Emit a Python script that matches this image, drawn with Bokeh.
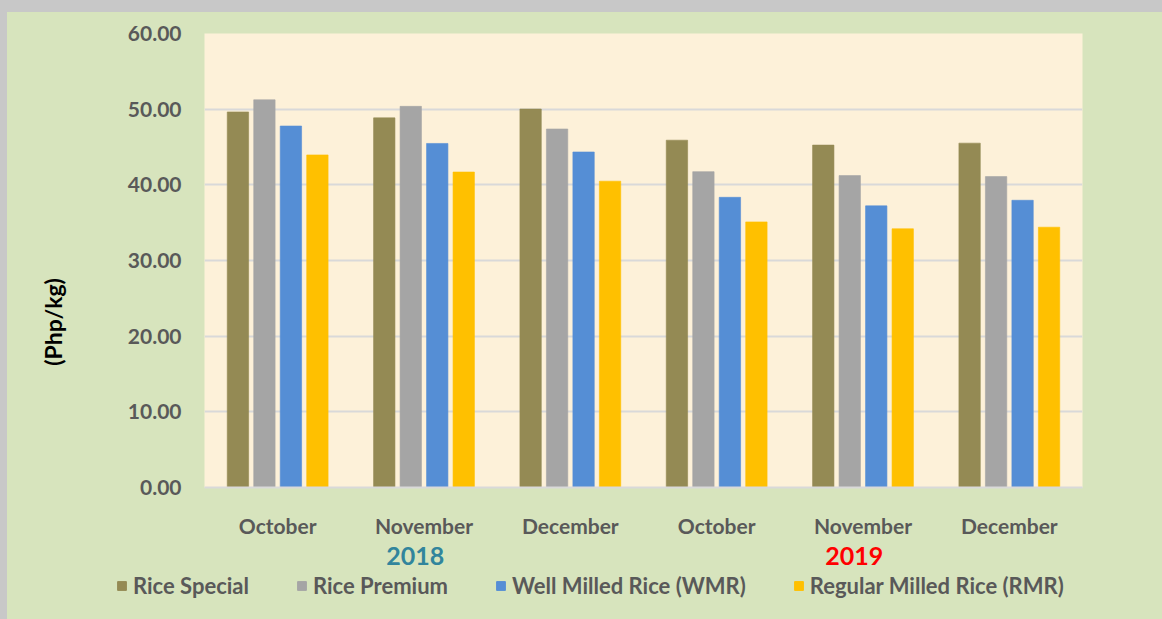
from bokeh.plotting import figure
from bokeh.layouts import column
from bokeh.models import (ColumnDataSource, Range1d, FixedTicker,
                          NumeralTickFormatter, Legend, LegendItem)
from bokeh.core.properties import value
from bokeh.transform import dodge
from bokeh.embed import file_html
from bokeh.resources import INLINE

# ---------------- data ----------------
months = ["October", "November", "December", "October", "November", "December"]
years = ["2018", "2018", "2018", "2019", "2019", "2019"]
rice_special = [49.63, 48.85, 50.02, 45.90, 45.25, 45.51]
rice_premium = [51.24, 50.37, 47.38, 41.74, 41.22, 41.09]
well_milled = [47.77, 45.47, 44.34, 38.35, 37.22, 37.96]
regular_milled = [43.95, 41.69, 40.48, 35.10, 34.19, 34.40]
series_names = ["Rice Special", "Rice Premium", "Well Milled Rice (WMR)",
                "Regular Milled Rice (RMR)"]
series_keys = ["special", "premium", "wmr", "rmr"]
series_colors = ["#948A54", "#A5A5A5", "#558ED5", "#FFC000"]
year_labels = ["2018", "2019"]
year_colors = ["#31859C", "#FF0000"]
y_ticks = [0, 10, 20, 30, 40, 50, 60]
y_label = "(Php/kg)"

# ---------------- layout constants ----------------
W, H = 1155, 607
MAIN_H = 528
BORDER_L, BORDER_R, BORDER_T, BORDER_B = 197, 80, 21, 46
FONT = "Lato"
TXT = "#595959"
GREEN = "#D7E4BD"

n = len(months)
centers = [i + 0.5 for i in range(n)]
source = ColumnDataSource(dict(xc=centers, special=rice_special,
                               premium=rice_premium, wmr=well_milled,
                               rmr=regular_milled))

p = figure(width=W, height=MAIN_H, output_backend="svg", toolbar_location=None,
           x_range=Range1d(0, n), y_range=Range1d(0, 60),
           min_border_left=BORDER_L, min_border_right=BORDER_R,
           min_border_top=BORDER_T, min_border_bottom=BORDER_B)
p.frame_align = False
p.background_fill_color = "#FDF1D9"
p.border_fill_color = GREEN
p.outline_line_color = None

pitch = 0.181
bw = 0.146
for j, (key, col) in enumerate(zip(series_keys, series_colors)):
    p.vbar(x=dodge("xc", (j - 1.5) * pitch), top=key, width=bw, source=source,
           fill_color=col, line_color=col, line_alpha=0.6)

# axes
p.yaxis.ticker = FixedTicker(ticks=y_ticks)
p.yaxis.formatter = NumeralTickFormatter(format="0.00")
p.yaxis.axis_line_color = None
p.yaxis.major_tick_line_color = None
p.yaxis.minor_tick_line_color = None
p.yaxis.major_label_standoff = 17
p.yaxis.major_label_text_font = FONT
p.yaxis.major_label_text_font_size = "21px"
p.yaxis.major_label_text_font_style = "bold"
p.yaxis.major_label_text_color = TXT
# trailing no-break spaces shift the rotated label below the frame centre
p.yaxis.axis_label = y_label + "\u00a0" * 22
p.yaxis.axis_label_text_font = FONT
p.yaxis.axis_label_text_font_size = "23px"
p.yaxis.axis_label_text_font_style = "bold"
p.yaxis.axis_label_text_color = "#000000"
p.yaxis.axis_label_standoff = 58

p.xaxis.ticker = FixedTicker(ticks=centers)
p.xaxis.major_label_overrides = {c: m for c, m in zip(centers, months)}
p.xaxis.axis_line_color = "#D9D9D9"
p.xaxis.axis_line_width = 2
p.xaxis.major_tick_line_color = None
p.xaxis.minor_tick_line_color = None
p.xaxis.major_label_standoff = 19
p.xaxis.major_label_text_font = FONT
p.xaxis.major_label_text_font_size = "21px"
p.xaxis.major_label_text_font_style = "bold"
p.xaxis.major_label_text_color = TXT

p.xgrid.grid_line_color = None
p.ygrid.grid_line_color = "#D9D9D9"
p.ygrid.grid_line_width = 2

# ---------------- bottom strip: years + legend ----------------
BOT_H = H - MAIN_H
px_per_unit = (W - BORDER_L - BORDER_R) / n
p2 = figure(width=W, height=BOT_H, output_backend="svg", toolbar_location=None,
            x_range=Range1d(-BORDER_L / px_per_unit, n + BORDER_R / px_per_unit),
            y_range=Range1d(0, BOT_H), x_axis_location=None,
            y_axis_location=None, min_border=0, min_border_left=0,
            min_border_right=0, min_border_top=0, min_border_bottom=0)
p2.frame_align = False
p2.background_fill_color = GREEN
p2.border_fill_color = GREEN
p2.outline_line_color = None
p2.grid.visible = False

ysrc = ColumnDataSource(dict(
    x=[sum(c for c, y in zip(centers, years) if y == yl) /
       sum(1 for y in years if y == yl) - 0.06 for yl in year_labels],
    y=[BOT_H - 15] * len(year_labels),
    text=year_labels, color=year_colors))
p2.text(x="x", y="y", text="text", text_color="color", source=ysrc,
        text_align="center", text_baseline="middle", text_font=value(FONT),
        text_font_size="25px", text_font_style="bold")

items = []
for key, name, col in zip(series_keys, series_names, series_colors):
    r = p2.vbar(x="xc", top=key, width=bw, source=source, fill_color=col,
                line_color=col, visible=False)
    items.append(LegendItem(label=name, renderers=[r]))
legend = Legend(items=items, orientation="horizontal", location=(109, 20),
                spacing=47, label_standoff=6, glyph_width=11, glyph_height=11,
                padding=0, margin=0, border_line_color=None,
                background_fill_alpha=0, label_text_font=FONT,
                label_text_font_size="22px", label_text_font_style="bold",
                label_text_color=TXT)
p2.add_layout(legend)

layout = column(p, p2, spacing=0)

html = file_html(layout, INLINE)
html = html.replace(
    "</head>",
    "<style>html{background:#C8C8C8 !important;}"
    "body{background:#D7E4BD !important;"
    "border-top:12px solid #C8C8C8 !important;"
    "border-left:7px solid #C8C8C8 !important;}</style></head>", 1)
open("out.html", "w").write(html)
